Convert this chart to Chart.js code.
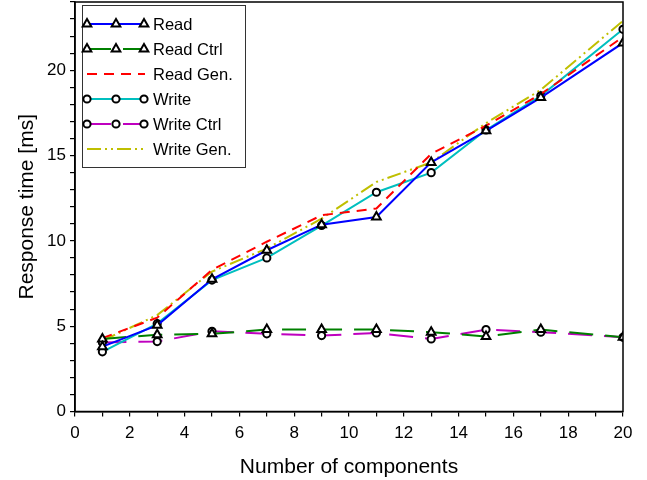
<!DOCTYPE html>
<html>
<head>
<meta charset="utf-8">
<script src="https://cdn.jsdelivr.net/npm/chart.js@4.4.0/dist/chart.umd.min.js"></script>
<style>
  body { margin: 0; background: #fff; }
  canvas { display: block; }
</style>
</head>
<body>
<canvas id="chart" width="647" height="480"></canvas>
<script>
// number of components
var components = [1, 3, 5, 7, 9, 11, 13, 15, 17, 20];

// response times [ms]
var read      = [3.8, 5.05, 7.75, 9.45, 10.95, 11.4, 14.6, 16.45, 18.4, 21.6];
var readCtrl  = [4.25, 4.5, 4.55, 4.8, 4.8, 4.8, 4.65, 4.4, 4.8, 4.35];
var readGen   = [4.3, 5.5, 8.3, 9.95, 11.5, 11.9, 15.1, 16.75, 18.6, 21.95];
var write     = [3.5, 5.15, 7.7, 9.0, 10.9, 12.85, 14.0, 16.5, 18.5, 22.4];
var writeCtrl = [4.05, 4.1, 4.7, 4.55, 4.45, 4.6, 4.25, 4.8, 4.65, 4.35];
var writeGen  = [4.15, 5.65, 8.2, 9.55, 11.3, 13.45, 14.6, 16.9, 18.85, 22.9];

var FONT = '"Liberation Sans", Arial, Helvetica, sans-serif';

function toPoints(ys) {
  return components.map(function (x, i) { return { x: x, y: ys[i] }; });
}

function series(label, ys, color, dash, marker) {
  return {
    label: label,
    data: toPoints(ys),
    borderColor: color,
    borderWidth: 2,
    borderDash: dash,
    fill: false,
    tension: 0,
    clip: 0,
    pointStyle: marker || 'circle',
    pointRadius: marker ? (marker === 'triangle' ? 5 : 3.6) : 0,
    pointBorderColor: '#000',
    pointBackgroundColor: '#fff',
    pointBorderWidth: 2,
    pointHoverRadius: 0
  };
}

function drawMarker(ctx, style, x, y) {
  ctx.save();
  ctx.setLineDash([]);
  ctx.lineWidth = 2;
  ctx.strokeStyle = '#000';
  ctx.fillStyle = '#fff';
  ctx.beginPath();
  if (style === 'triangle') {
    var r = 5;
    ctx.moveTo(x, y - r);
    ctx.lineTo(x + r * 0.866, y + r * 0.5);
    ctx.lineTo(x - r * 0.866, y + r * 0.5);
    ctx.closePath();
  } else {
    ctx.arc(x, y, 3.6, 0, Math.PI * 2);
  }
  ctx.fill();
  ctx.stroke();
  ctx.restore();
}

// box around the plot + legend with line/marker samples
var framePlugin = {
  id: 'frame',
  afterDraw: function (chart) {
    var ctx = chart.ctx;
    var a = chart.chartArea;
    ctx.save();
    ctx.strokeStyle = '#000';
    ctx.lineWidth = 1.5;
    ctx.strokeRect(a.left, a.top, a.right - a.left, a.bottom - a.top);

    var bx = a.left + 7, by = a.top + 3, bw = 163, bh = 162;
    ctx.fillStyle = '#fff';
    ctx.fillRect(bx, by, bw, bh);
    ctx.lineWidth = 1;
    ctx.strokeStyle = '#333';
    ctx.strokeRect(bx + 0.5, by + 0.5, bw, bh);

    chart.data.datasets.forEach(function (ds, i) {
      var y = by + 19 + i * 25;
      var x0 = bx + 5, x1 = bx + 63;
      ctx.save();
      ctx.strokeStyle = ds.borderColor;
      ctx.lineWidth = 2;
      ctx.setLineDash(ds.borderDash || []);
      ctx.beginPath();
      ctx.moveTo(x0, y);
      ctx.lineTo(x1, y);
      ctx.stroke();
      ctx.restore();
      if (ds.pointRadius > 0) {
        [x0, bx + 34, x1 - 1].forEach(function (mx) { drawMarker(ctx, ds.pointStyle, mx, y); });
      }
      ctx.fillStyle = '#000';
      ctx.font = '16.5px ' + FONT;
      ctx.textBaseline = 'middle';
      ctx.textAlign = 'left';
      ctx.fillText(ds.label, bx + 71, y + 1);
    });
    ctx.restore();
  }
};

new Chart(document.getElementById('chart'), {
  type: 'line',
  data: {
    datasets: [
      series('Read', read, '#0000ff', [], 'triangle'),
      series('Read Ctrl', readCtrl, '#008000', [24, 12], 'triangle'),
      series('Read Gen.', readGen, '#ff0000', [10, 7]),
      series('Write', write, '#00bfbf', [], 'circle'),
      series('Write Ctrl', writeCtrl, '#bf00bf', [24, 12], 'circle'),
      series('Write Gen.', writeGen, '#bfbf00', [14, 4, 2, 4, 2, 4])
    ]
  },
  options: {
    responsive: false,
    devicePixelRatio: 1,
    animation: false,
    layout: { autoPadding: false, padding: { top: 2, right: 24, left: 0, bottom: 0 } },
    plugins: {
      legend: { display: false },
      tooltip: { enabled: false }
    },
    scales: {
      x: {
        type: 'linear',
        min: 0,
        max: 20,
        afterFit: function (scale) {
          scale.height = 68.5;
          scale.paddingLeft = 0;
          scale.paddingRight = 0;
        },
        ticks: {
          stepSize: 1,
          autoSkip: false,
          maxRotation: 0,
          padding: 7,
          color: '#000',
          font: { family: FONT, size: 17 },
          callback: function (v) { return v % 2 === 0 ? String(v) : ''; }
        },
        grid: { drawOnChartArea: false, drawTicks: true, tickLength: 5, color: '#000', lineWidth: 1.2 },
        border: { color: '#000', width: 1.5 },
        title: {
          display: true,
          text: 'Number of components',
          color: '#000',
          font: { family: FONT, size: 21 },
          padding: { top: 0, bottom: 0 }
        }
      },
      y: {
        min: 0,
        max: 24,
        afterFit: function (scale) {
          scale.width = 75;
          scale.paddingTop = 0;
          scale.paddingBottom = 0;
        },
        ticks: {
          stepSize: 1,
          autoSkip: false,
          padding: 4,
          color: '#000',
          font: { family: FONT, size: 17 },
          callback: function (v) { return v % 5 === 0 ? String(v) : ''; }
        },
        grid: { drawOnChartArea: false, drawTicks: true, tickLength: 5, color: '#000', lineWidth: 1.2 },
        border: { color: '#000', width: 1.5 },
        title: {
          display: true,
          text: 'Response time [ms]',
          color: '#000',
          font: { family: FONT, size: 21 },
          padding: { top: 15, bottom: 0 }
        }
      }
    }
  },
  plugins: [framePlugin]
});
</script>
</body>
</html>
